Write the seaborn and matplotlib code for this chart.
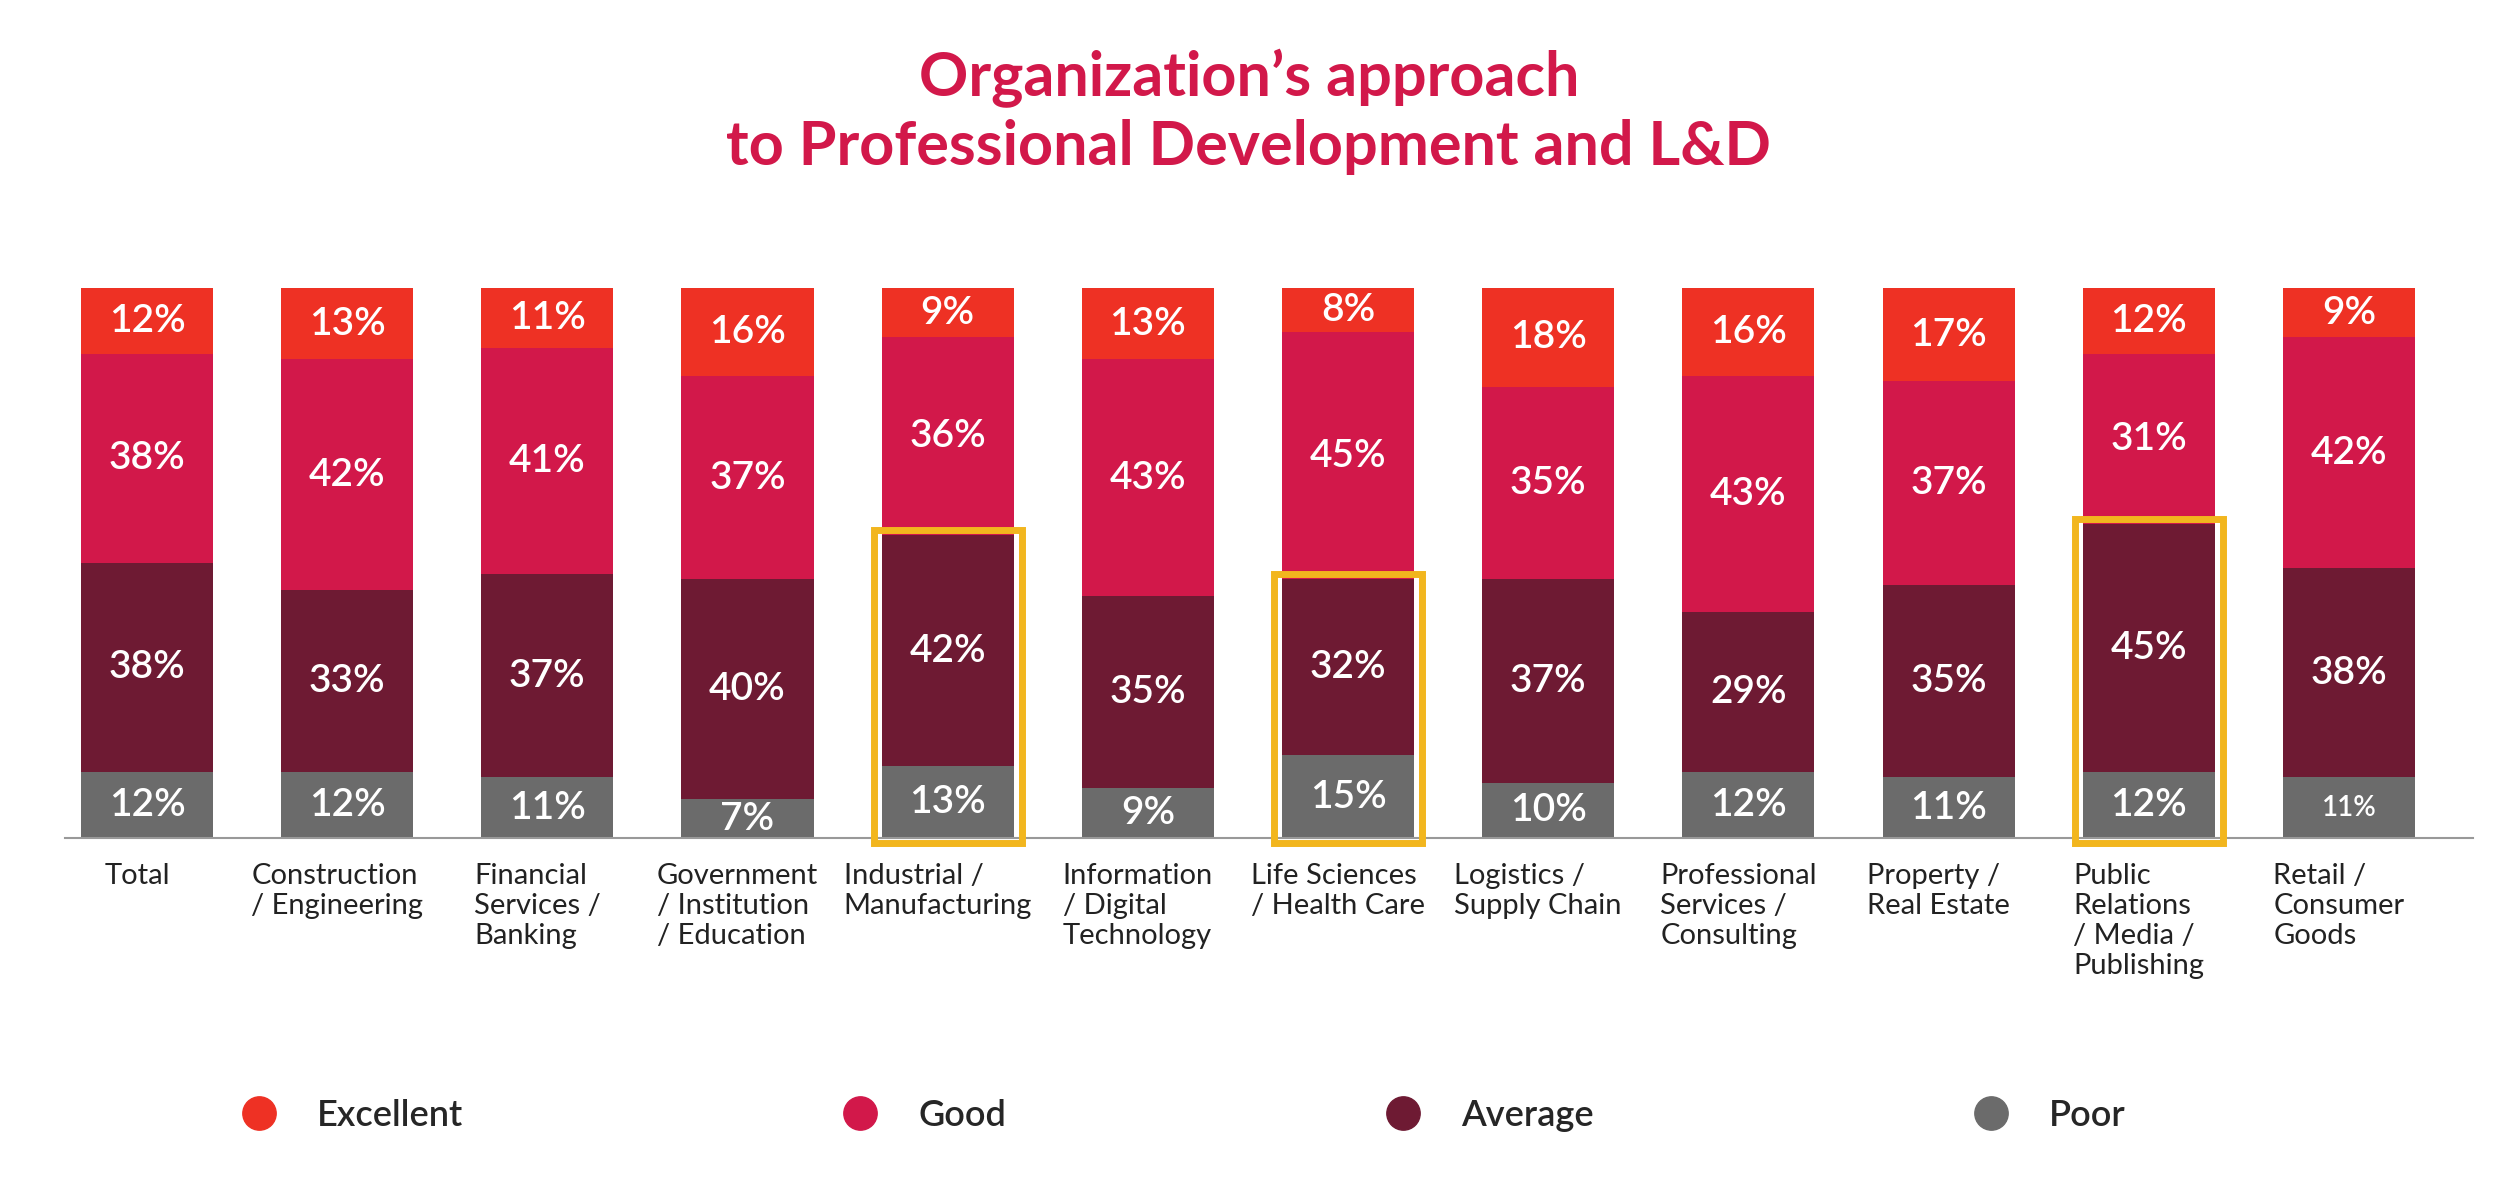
import matplotlib
matplotlib.use("Agg")
import matplotlib.pyplot as plt
from matplotlib.lines import Line2D
from matplotlib.patches import Rectangle
import numpy
import pandas
import seaborn as sns

categories = ["Total", "Construction\n/ Engineering", "Financial\nServices /\nBanking",
              "Government\n/ Institution\n/ Education", "Industrial /\nManufacturing",
              "Information\n/ Digital\nTechnology", "Life Sciences\n/ Health Care",
              "Logistics /\nSupply Chain", "Professional\nServices /\nConsulting",
              "Property /\nReal Estate", "Public\nRelations\n/ Media /\nPublishing",
              "Retail /\nConsumer\nGoods"]
excellent = [12, 13, 11, 16, 9, 13, 8, 18, 16, 17, 12, 9]
good = [38, 42, 41, 37, 36, 43, 45, 35, 43, 37, 31, 42]
average = [38, 33, 37, 40, 42, 35, 32, 37, 29, 35, 45, 38]
poor = [12, 12, 11, 7, 13, 9, 15, 10, 12, 11, 12, 11]
highlighted = [4, 6, 10]

series = ["Excellent", "Good", "Average", "Poor"]
colors = {"Excellent": "#EE3124", "Good": "#D2184A", "Average": "#6E1A33", "Poor": "#6B6B6B"}

sns.set_style("white")
plt.rcParams["font.family"] = ["Lato", "DejaVu Sans"]

values = {"Excellent": excellent, "Good": good, "Average": average, "Poor": poor}
# cumulative from the bottom
cum = {}
running = numpy.zeros(len(categories))
for name in ["Poor", "Average", "Good", "Excellent"]:
    running = running + numpy.array(values[name])
    cum[name] = running.copy()

fig = plt.figure(figsize=(24.98, 11.8), dpi=100)
ax = fig.add_axes([0.026, 0.29, 0.964, 0.466])

xs = list(range(len(categories)))
for name in series:  # tallest first, overlap trick
    df = pandas.DataFrame({"x": xs, "y": cum[name]})
    sns.barplot(data=df, x="x", y="y", color=colors[name], width=0.66,
                saturation=1, ax=ax, native_scale=True, linewidth=0, edgecolor="none")

for i in xs:
    lo = 0
    for name in ["Poor", "Average", "Good", "Excellent"]:
        v = values[name][i]
        size = 20 if (name == "Poor" and i == 11) else 28
        ax.text(i, lo + v / 2, f"{v}%", ha="center", va="center", color="white",
                fontsize=size, fontweight="semibold")
        lo += v

for i in highlighted:
    top = poor[i] + average[i]
    ax.add_patch(Rectangle((i - 0.37, -1), 0.74, top + 2, fill=False,
                           edgecolor="#F2B61E", lw=5, clip_on=False, zorder=5))

ax.set_xlim(-0.41, 11.62)
ax.set_ylim(0, 100)
ax.set_xticks([])
ax.set_yticks([])
ax.set_xlabel("")
ax.set_ylabel("")
for s in ["top", "right", "left"]:
    ax.spines[s].set_visible(False)
ax.spines["bottom"].set_color("#999999")
ax.spines["bottom"].set_linewidth(1.5)

for i, c in enumerate(categories):
    ax.text(i - 0.05, -4.5, c, ha="center", va="top", multialignment="left",
            fontsize=21, color="#222222", linespacing=1.2)

fig.text(0.5, 0.905, "Organization\u2019s approach\nto Professional Development and L&D",
         ha="center", va="center", fontsize=44, fontweight="bold", color="#D2184A",
         linespacing=1.25)

handles = [Line2D([], [], marker="o", linestyle="", markersize=24,
                  markerfacecolor=colors[n], markeredgecolor=colors[n], label=n) for n in series]
fig.legend(handles=handles, loc="center", bbox_to_anchor=(0.47, 0.055), ncol=4,
           frameon=False, columnspacing=10, handletextpad=0.6,
           prop={"size": 26, "weight": "semibold"})

fig.savefig("out.png", dpi=100, facecolor="white")
